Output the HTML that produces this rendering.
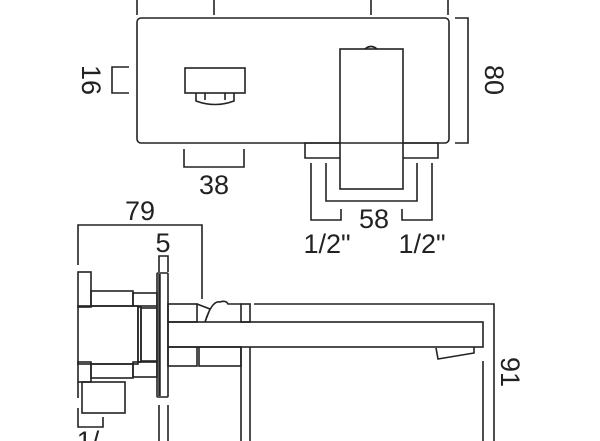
<!DOCTYPE html>
<html><head><style>
html,body{margin:0;padding:0;background:#fff;}
svg{display:block;}
text{font-family:"Liberation Sans",sans-serif;fill:#222;}
</style></head><body>
<svg width="600" height="441" viewBox="0 0 600 441" xmlns="http://www.w3.org/2000/svg">
<g fill="none" stroke="#222" stroke-width="1.6">
<!-- top view -->
<line x1="137" y1="0" x2="137" y2="15"/><line x1="214" y1="0" x2="214" y2="15"/>
<line x1="371" y1="0" x2="371" y2="15"/><line x1="448" y1="0" x2="448" y2="15"/>
<rect x="137" y="18" width="312" height="125" rx="4"/>
<polyline points="455,18 468,18 468,143 455,143"/>
<polyline points="129,67 112,67 112,93 129,93"/>
<rect x="185" y="68" width="60" height="25"/>
<path d="M196,93 V101 Q215,108 234,101 V93"/>
<line x1="205" y1="93" x2="205" y2="100"/><line x1="225" y1="93" x2="225" y2="100"/>
<rect x="340" y="49" width="63" height="140"/>
<path d="M365,49 Q371,44 377,49"/>
<polyline points="340,143 305,143 305,158 340,158"/>
<polyline points="403,143 438,143 438,158 403,158"/>
<polyline points="184,149 184,167 244,167 244,149"/>
<polyline points="326,163 326,201 417,201 417,163"/>
<polyline points="311,163 311,220 341,220 341,209"/>
<polyline points="432,163 432,220 402,220 402,209"/>
<!-- side view -->
<polyline points="78,265 78,225 202,225 202,299"/>
<polyline points="159,272 159,256 168,256 168,272"/>
<rect x="157" y="273" width="11" height="124" rx="1"/>
<line x1="159.5" y1="274" x2="159.5" y2="396" stroke-width="2.5"/>
<line x1="159" y1="405" x2="159" y2="441"/><line x1="168" y1="405" x2="168" y2="441"/>
<rect x="78" y="272" width="13" height="35"/>
<rect x="91" y="291" width="42" height="15"/>
<rect x="133" y="293" width="24" height="13"/>
<rect x="78" y="306" width="60" height="58"/>
<rect x="138" y="307" width="3" height="55"/>
<rect x="141" y="308" width="16" height="53"/>
<rect x="78" y="362" width="13" height="20"/>
<rect x="91" y="364" width="42" height="14"/>
<rect x="133" y="362" width="24" height="15"/>
<rect x="82" y="382" width="43" height="31"/>
<line x1="78" y1="382" x2="78" y2="398"/>
<polyline points="78,408 78,427 103,427 103,417"/>
<rect x="168" y="304" width="29" height="18"/>
<rect x="168" y="347" width="29" height="19"/>
<rect x="199" y="347" width="42" height="19"/>
<path d="M197,304 L210,309 L205,322 M205,322 Q212,300 220,302 Q226,300 228,304 L241,304"/>
<rect x="241" y="304" width="9" height="18"/>
<line x1="241" y1="347" x2="241" y2="441"/><line x1="250" y1="347" x2="250" y2="441"/>
<rect x="168" y="322" width="315" height="25"/>
<polyline points="254,304 494,304 494,441"/>
<polyline points="436,348 438,359 474,353 474,347"/>
<line x1="483" y1="361" x2="483" y2="441"/>
</g>
<g font-size="27">
<text x="214" y="194" text-anchor="middle">38</text>
<text x="374" y="228" text-anchor="middle">58</text>
<text x="327" y="253" text-anchor="middle">1/2"</text>
<text x="422" y="253" text-anchor="middle">1/2"</text>
<text x="140" y="220" text-anchor="middle">79</text>
<text x="163" y="252" text-anchor="middle">5</text>
<text x="88" y="450" text-anchor="middle">1/</text>
<text transform="translate(485,80) rotate(90)" text-anchor="middle">80</text>
<text transform="translate(82,80) rotate(90)" text-anchor="middle">16</text>
<text transform="translate(501,372) rotate(90)" text-anchor="middle">91</text>
</g>
</svg>
</body></html>
